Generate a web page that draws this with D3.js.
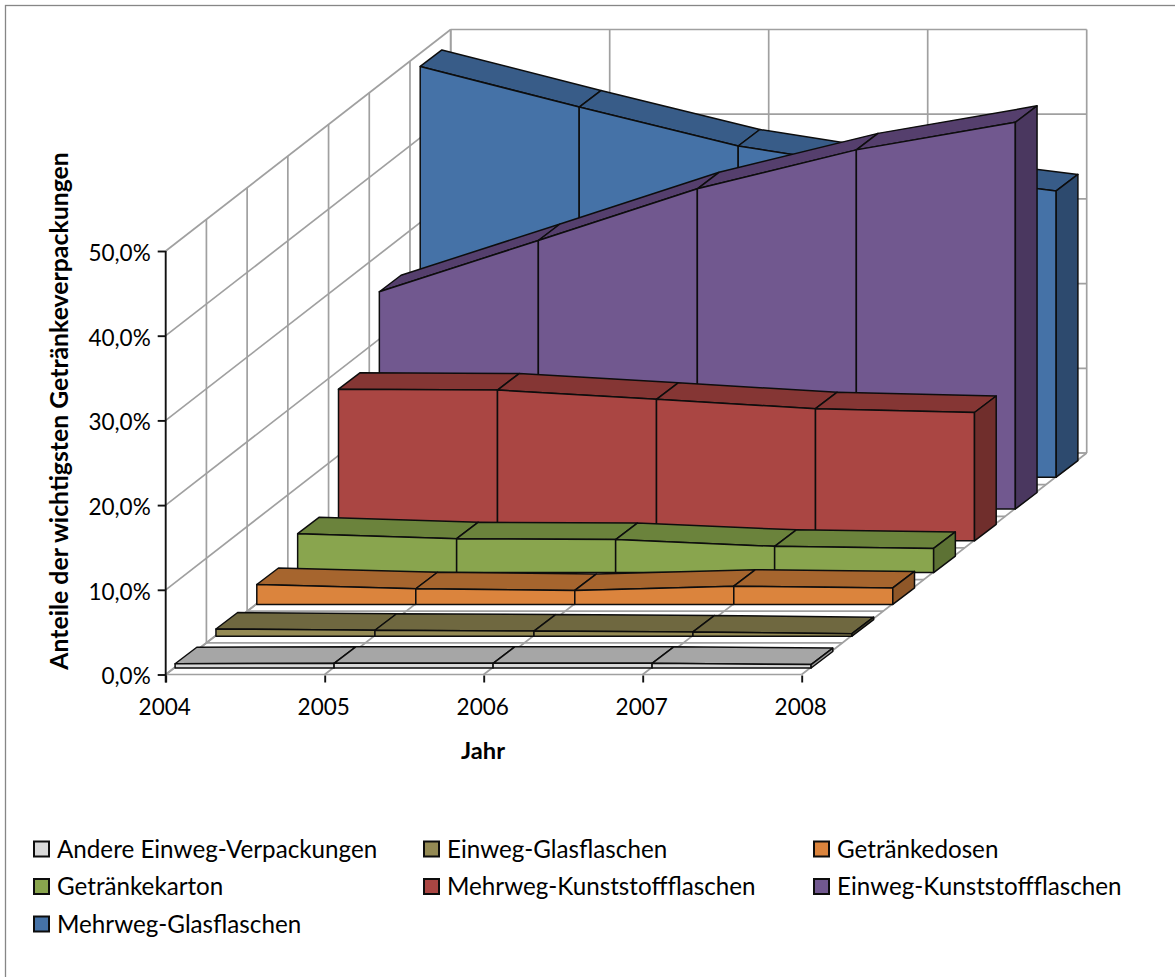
<!DOCTYPE html>
<html lang="de">
<head>
<meta charset="utf-8">
<title>Anteile der wichtigsten Getränkeverpackungen</title>
<script src="https://cdn.jsdelivr.net/npm/d3@7/dist/d3.min.js"></script>
<style>
  html, body { margin: 0; padding: 0; background: #fff; overflow: hidden; }
  text { font-family: Lato, "Open Sans", sans-serif; fill: #000; }
</style>
</head>
<body>
<svg id="chart" width="1175" height="977"></svg>
<script>
// Years on the category axis and ticks on the value axis
const years = [2004, 2005, 2006, 2007, 2008];
const valueTicks = [0, 10, 20, 30, 40, 50];

// Share per packaging type in percent, front ribbon first
const andereEinweg = [0.5, 0.55, 0.55, 0.55, 0.4];
const einwegGlas = [0.85, 0.7, 0.6, 0.5, 0.3];
const getraenkedosen = [2.35, 1.85, 1.65, 2.15, 1.95];
const getraenkekarton = [4.6, 4.0, 3.9, 3.1, 2.85];
const mehrwegKunststoff = [17.9, 17.8, 16.7, 15.6, 15.15];
const einwegKunststoff = [25.65, 31.7, 37.8, 42.4, 45.65];
const mehrwegGlas = [48.5, 43.7, 39.1, 36.15, 33.8];

const seriesNames = ["Andere Einweg-Verpackungen", "Einweg-Glasflaschen", "Getränkedosen",
  "Getränkekarton", "Mehrweg-Kunststoffflaschen", "Einweg-Kunststoffflaschen", "Mehrweg-Glasflaschen"];
const seriesValues = [andereEinweg, einwegGlas, getraenkedosen, getraenkekarton,
  mehrwegKunststoff, einwegKunststoff, mehrwegGlas];
const faceColors = ["#d9d9d9", "#948a54", "#db843d", "#89a54e", "#aa4643", "#71588f", "#4572a7"];
const topColors = ["#a6a6a6", "#6f6840", "#a6652e", "#6b833c", "#853634", "#553f6d", "#385c88"];
const sideColors = ["#999999", "#5f5937", "#8f5728", "#5d7234", "#702e2c", "#4a375f", "#2d4a6e"];

const svg = d3.select("#chart");

// Oblique projection: x and y address the front plane, the depth scales shift things back
const x = d3.scalePoint().domain(years).range([165.7, 801.7]);
const y = d3.scaleLinear().domain([0, 50]).range([674.5, 251]);
const wallX = d3.scaleLinear().domain([0, 7]).range([0, 285]);
const wallY = d3.scaleLinear().domain([0, 7]).range([0, 221.5]);
const ribbonX = d3.scaleLinear().domain([0, 6]).range([9.4, 254.5]);
const ribbonY = d3.scaleLinear().domain([0, 6]).range([6.5, 197.3]);
const ribbonDepthX = 21.7, ribbonDepthY = 16.5;

// Chart frame, cut off by the page on the right and at the bottom
svg.append("rect").attr("x", 5.5).attr("y", 5.5).attr("width", 1300).attr("height", 1100)
  .attr("fill", "#fff").attr("stroke", "#868686").attr("stroke-width", 1.3);

// Walls and floor
const grid = svg.append("g").attr("stroke", "#a0a0a0").attr("stroke-width", 1.7).attr("fill", "none");
const gridLine = (x1, y1, x2, y2) => grid.append("line")
  .attr("x1", x1).attr("y1", y1).attr("x2", x2).attr("y2", y2);
const backDx = wallX(7), backDy = wallY(7);

valueTicks.forEach(v => {
  gridLine(x(2004), y(v), x(2004) + backDx, y(v) - backDy);
  gridLine(x(2004) + backDx, y(v) - backDy, x(2008) + backDx, y(v) - backDy);
});
years.forEach(yr => {
  gridLine(x(yr), y(0), x(yr) + backDx, y(0) - backDy);
  gridLine(x(yr) + backDx, y(0) - backDy, x(yr) + backDx, y(50) - backDy);
});
d3.range(0, 8).forEach(k => {
  gridLine(x(2004) + wallX(k), y(0) - wallY(k), x(2008) + wallX(k), y(0) - wallY(k));
  if (k > 0) gridLine(x(2004) + wallX(k), y(0) - wallY(k), x(2004) + wallX(k), y(50) - wallY(k));
});

// Ribbons, drawn from the back row forward so nearer ones cover farther ones
const poly = d3.line();
const marks = svg.append("g").attr("stroke", "#0d0d0d").attr("stroke-width", 1.5).attr("stroke-linejoin", "round");
d3.range(seriesValues.length - 1, -1, -1).forEach(i => {
  const values = seriesValues[i];
  const px = yr => x(yr) + ribbonX(i);
  const base = y(0) - ribbonY(i);
  const py = v => y(v) - ribbonY(i);
  const row = marks.append("g").attr("class", "ribbon");
  d3.pairs(years).forEach(([a, b], j) => {
    const v0 = values[j], v1 = values[j + 1];
    row.append("path").attr("fill", topColors[i]).attr("d", poly([
      [px(a), py(v0)], [px(b), py(v1)],
      [px(b) + ribbonDepthX, py(v1) - ribbonDepthY], [px(a) + ribbonDepthX, py(v0) - ribbonDepthY]
    ]) + "Z");
    row.append("path").attr("fill", faceColors[i]).attr("d", poly([
      [px(a), py(v0)], [px(b), py(v1)], [px(b), base], [px(a), base]
    ]) + "Z");
  });
  const last = years[years.length - 1], vLast = values[values.length - 1];
  row.append("path").attr("fill", sideColors[i]).attr("d", poly([
    [px(last), py(vLast)], [px(last) + ribbonDepthX, py(vLast) - ribbonDepthY],
    [px(last) + ribbonDepthX, base - ribbonDepthY], [px(last), base]
  ]) + "Z");
});

// Value axis
const yAxis = d3.axisLeft(y).tickValues(valueTicks).tickSize(8).tickPadding(7)
  .tickFormat(v => v.toFixed(1).replace(".", ",") + "%");
const yG = svg.append("g").attr("transform", `translate(${x(2004)},0)`).call(yAxis);
yG.selectAll("path, line").attr("stroke", "#111").attr("stroke-width", 1.9);
yG.select(".domain").attr("d", `M0,${y(50)}V${y(0) + 8}`);
yG.selectAll("text").attr("font-size", 22.5).attr("font-family", null).attr("dy", "0.42em");

// Year axis
const xAxis = d3.axisBottom(x).tickSize(7).tickPadding(17).tickFormat(d3.format("d"));
const xG = svg.append("g").attr("transform", `translate(0,${y(0) + 1})`).call(xAxis);
xG.select(".domain").remove();
xG.selectAll("line").attr("stroke", "#111").attr("stroke-width", 1.9);
xG.selectAll("text").attr("font-size", 22.5).attr("font-family", null).attr("dx", -1.5);

// Axis titles
svg.append("text").attr("x", 483).attr("y", 759).attr("text-anchor", "middle")
  .attr("font-size", 23.7).attr("font-weight", 700).text("Jahr");
svg.append("text").attr("transform", "translate(68,411) rotate(-90)").attr("text-anchor", "middle")
  .attr("font-size", 24.8).attr("font-weight", 700).text("Anteile der wichtigsten Getränkeverpackungen");

// Legend, three entries per row
const legendColX = d3.scalePoint().domain([0, 1, 2]).range([34, 814]);
const legendRowY = d3.scalePoint().domain([0, 1, 2]).range([849, 924]);
const legend = svg.append("g");
seriesNames.forEach((name, i) => {
  const lx = legendColX(i % 3), ly = legendRowY(Math.floor(i / 3));
  legend.append("rect").attr("x", lx).attr("y", ly - 7.5).attr("width", 15).attr("height", 15)
    .attr("fill", faceColors[i]).attr("stroke", "#0d0d0d").attr("stroke-width", 2);
  legend.append("text").attr("x", lx + 23).attr("y", ly + 8.5).attr("font-size", 24.2).text(name);
});
</script>
</body>
</html>
